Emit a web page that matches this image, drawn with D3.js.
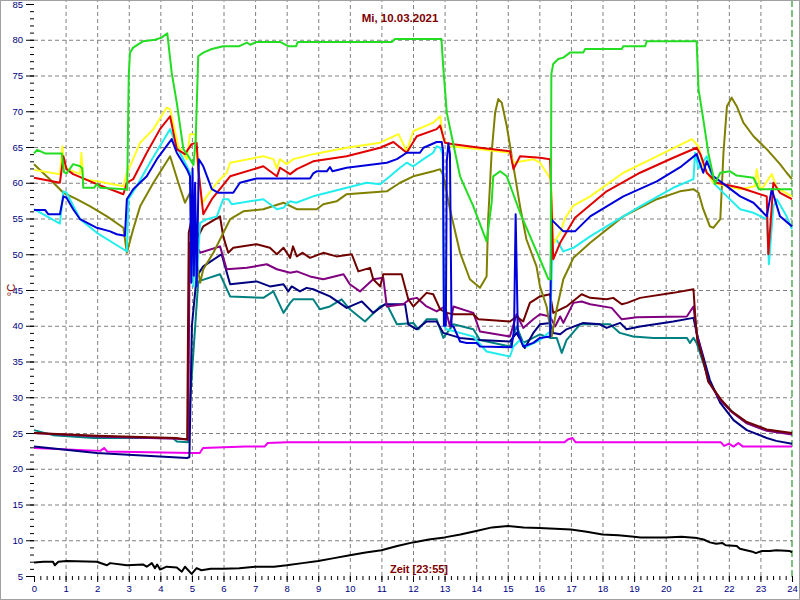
<!DOCTYPE html>
<html><head><meta charset="utf-8">
<script src="https://cdn.jsdelivr.net/npm/d3@7/dist/d3.min.js"></script>
<style>body{margin:0;background:#fff}svg{display:block}</style>
</head><body><svg id="c" width="800" height="600"></svg>
<script>
// ---------- data (hour, °C) ----------
const xMajorTicks = d3.range(0, 25, 1);
const yMajorTicks = d3.range(5, 86, 5);
const titleText = "Mi, 10.03.2021";
const xLabelText = "Zeit [23:55]";
const yLabelText = "°C";

const green = [[0,64.1],[0.1,64.6],[0.35,64.1],[0.88,64.1],[0.95,61.5],[1.03,61.3],[1.24,62.6],[1.46,62.3],[1.53,62.0],[1.56,59.3],[1.9,59.3],[1.99,59.8],[2.1,59.3],[2.88,59.1],[2.95,59],[3.0,75],[3.04,78.2],[3.14,78.9],[3.46,79.8],[3.83,80.0],[4.04,80.3],[4.22,80.9],[4.36,75.4],[4.52,71.2],[4.73,64.7],[4.89,63.7],[5.05,62.5],[5.12,66],[5.2,77.7],[5.36,78.2],[5.63,78.7],[5.99,79.1],[6.5,79.1],[6.74,79.6],[6.85,79.3],[7.05,79.7],[7.79,79.7],[8.05,79.1],[8.3,79.1],[8.35,79.7],[11.33,79.7],[11.43,80.1],[12.9,80.1],[12.96,76.0],[13.07,69.8],[13.49,60.9],[13.91,56.7],[14.33,51.8],[14.49,57.2],[14.54,60.9],[14.76,61.6],[14.97,60.9],[15.39,55.8],[16.02,49.3],[16.29,46.5],[16.36,46.5],[16.38,75.2],[16.44,76.6],[16.6,77.3],[16.76,77.5],[16.97,78.2],[17.39,78.2],[17.45,78.7],[18.61,78.7],[18.66,79.1],[19.35,79.1],[19.4,79.8],[20.98,79.8],[21.04,73.1],[21.19,68.9],[21.35,64.2],[21.56,59.8],[21.73,61.4],[22.04,61.6],[22.25,61.0],[22.78,60.7],[22.95,59.1],[24,59.1]];

const yellow = [[0,61.8],[0.82,61.2],[0.9,65.1],[0.96,62.3],[1.1,61.8],[1.24,61.6],[1.46,61.2],[1.5,64.2],[1.56,60.5],[2.0,60.2],[2.83,59.5],[2.94,61.4],[3.04,62.3],[3.36,65.6],[3.78,67.5],[4.2,70.5],[4.31,70.3],[4.57,65.1],[4.84,63.3],[4.94,66.8],[5.1,66.8],[5.15,64],[5.31,57],[5.47,58.1],[5.79,60],[6.1,61.4],[6.21,62.8],[7.26,63.7],[7.58,63.3],[7.69,62.0],[7.79,63.3],[8.0,62.6],[8.21,63.3],[8.84,64.0],[9.9,64.9],[10.96,65.6],[11.54,66.8],[11.8,64.4],[12.01,67.2],[12.64,68.4],[12.86,69.3],[12.96,66.1],[13.17,65.1],[14.12,64.7],[15.07,64.2],[15.18,62.8],[15.81,63.3],[16.02,62.8],[16.23,61.4],[16.36,60.5],[16.45,51.5],[16.66,53],[16.81,55],[17.08,56.8],[17.61,58.1],[18.66,61.4],[19.72,63.7],[20.83,66.1],[21.04,65.1],[21.19,62.3],[21.51,60.0],[22.36,59.1],[22.83,59.5],[22.88,61.9],[22.99,59.3],[23.04,59.1],[23.36,61.2],[23.52,59.3],[24,58.1]];

const red = [[0,60.7],[0.82,60.0],[0.93,63.7],[1.03,61.9],[1.24,61.2],[1.99,59.8],[2.83,58.4],[2.94,60.0],[3.14,60.5],[3.57,64.2],[3.99,67.5],[4.31,69.3],[4.52,64.7],[4.78,64.0],[4.99,65.4],[5.15,65.6],[5.2,62],[5.36,55.6],[5.63,57.7],[6.21,60.9],[7.26,62.3],[7.69,60.9],[7.79,62.1],[8.11,61.2],[8.32,61.9],[8.84,63.0],[9.9,63.7],[10.96,64.9],[11.38,65.7],[11.8,64.2],[12.12,66.5],[12.75,67.5],[12.86,68.0],[13.01,65.6],[13.28,65.4],[14.12,64.9],[15.07,64.4],[15.18,61.9],[15.39,63.7],[16.02,63.5],[16.34,63.3],[16.44,49.3],[16.66,51.6],[17.13,55.1],[18.13,58.8],[19.19,61.4],[20.24,63.5],[20.98,64.9],[21.1,64],[21.3,61.4],[21.62,60.0],[22.36,59.3],[23.2,58.1],[23.25,50.0],[23.3,53],[23.41,60.0],[23.62,58.6],[24,57.7]];

const blue = [[0,56.2],[0.35,56.2],[0.45,55.6],[0.82,55.6],[0.93,58.1],[1.03,57.9],[1.24,56.3],[1.46,54.9],[1.99,53.7],[2.41,53.2],[2.62,52.8],[2.88,52.6],[2.94,57.7],[3.14,59.1],[3.57,60.9],[3.89,63.3],[4.36,66.1],[4.52,64.2],[4.84,61.9],[4.94,60.9],[4.98,46],[5.02,62],[5.06,47],[5.1,60],[5.15,45.5],[5.22,63.3],[5.36,62.3],[5.63,59.1],[5.84,58.6],[6.31,58.6],[6.52,60.0],[7.05,60.6],[8.74,60.6],[8.84,61.3],[8.95,61.6],[9.27,61.6],[9.37,62.2],[9.45,61.6],[9.9,62.1],[11.17,62.8],[11.49,63.3],[11.8,64.2],[12.22,64.2],[12.33,64.9],[12.75,65.7],[12.91,65.7],[12.95,64.5],[12.98,40],[13.04,40],[13.07,63],[13.12,65.5],[13.17,64],[13.22,40],[13.28,39.9],[13.49,37.8],[13.7,37.6],[14.02,37.6],[14.12,37.1],[15.12,37.0],[15.2,39.5],[15.25,55.6],[15.32,39],[15.49,37.1],[15.81,37.6],[16.02,38.3],[16.34,38.5],[16.38,54.9],[16.44,54.6],[16.76,53.2],[17.13,53.2],[17.61,55.3],[18.66,58.1],[19.72,60.2],[20.5,62.3],[20.98,64.0],[21.19,61.4],[21.3,63.0],[21.51,60.9],[21.94,59.5],[22.36,58.1],[22.78,57.2],[23.2,55.3],[23.36,59.1],[23.62,55.3],[24,53.9]];

const cyan = [[0,56.3],[0.82,54.3],[0.93,58.8],[1.03,58.6],[1.46,54.9],[1.99,53.0],[2.83,50.7],[2.94,50.4],[2.99,57.7],[3.25,59.5],[3.67,62.8],[4.31,67.5],[4.52,65.1],[4.84,62.3],[4.94,61.4],[5.0,53],[5.05,45.5],[5.1,56],[5.15,45.5],[5.2,50],[5.26,54.4],[5.47,54.9],[5.79,55.3],[5.99,57.7],[6.15,57.7],[6.26,57.0],[7.26,57.7],[7.69,56.3],[7.9,56.5],[8.1,57.4],[8.3,57.2],[8.84,58.1],[9.9,59.3],[10.53,60.0],[10.96,59.8],[11.27,60.9],[11.59,62.1],[11.8,62.8],[12.01,62.3],[12.33,63.3],[12.64,64.2],[12.75,65.1],[12.86,64.9],[12.94,64],[12.98,40],[13.07,39.5],[13.49,39.0],[13.91,38.5],[14.33,36.4],[15.07,35.7],[15.18,37.1],[15.39,38.0],[15.59,37.1],[16.02,38.0],[16.34,39.2],[16.42,52],[16.55,52],[16.76,50.4],[17.08,50.9],[17.61,52.5],[18.13,53.9],[19.19,56.7],[20.24,59.3],[20.88,60.5],[20.93,64.2],[21.04,62],[21.3,63.7],[21.51,60.0],[21.94,58.1],[22.36,56.3],[22.78,55.8],[23.2,54.9],[23.27,48.6],[23.41,56.7],[23.52,57.7],[23.83,55.3],[24,53.5]];

const olive = [[0,62.6],[0.5,60.5],[0.93,58.6],[1.35,57.7],[1.78,56.7],[2.31,55.3],[2.83,53.7],[2.94,50.2],[3.14,53.5],[3.36,56.7],[3.78,60.0],[4.31,63.7],[4.57,60.0],[4.78,57.2],[4.94,58.6],[5.0,56],[5.15,49],[5.26,46.0],[5.36,47.9],[5.68,50.2],[6.21,54.9],[6.63,56.0],[7.26,56.3],[7.9,57.2],[8.32,56.3],[8.95,56.3],[9.16,57.0],[9.58,57.4],[9.9,58.4],[11.17,58.8],[11.59,60.0],[12.01,60.9],[12.64,61.6],[12.86,61.9],[12.96,61],[13.17,56.3],[13.49,50.2],[13.8,46.5],[14.12,45.3],[14.33,46.9],[14.38,54.9],[14.49,64.2],[14.6,69.8],[14.7,71.7],[14.81,71.2],[14.97,67.9],[15.18,62.3],[15.39,56.7],[15.59,52.1],[15.91,48.3],[16.02,45.5],[16.23,42.7],[16.39,38.5],[16.55,42.3],[16.76,46.5],[17.08,49.5],[17.61,51.6],[18.66,55.3],[19.72,57.7],[20.45,58.8],[20.88,59.1],[21.04,58.6],[21.19,56.3],[21.4,53.9],[21.51,53.7],[21.73,54.9],[21.83,64.2],[21.94,70.7],[22.09,71.9],[22.25,70.7],[22.46,68.4],[22.78,66.5],[23.2,64.7],[23.62,62.6],[23.83,61.4],[24,60.5]];

const maroon = [[0,25.0],[2,24.6],[4.5,24.3],[4.85,24.1],[4.9,53],[4.99,54.9],[5.04,55.3],[5.2,52.5],[5.36,53.9],[5.89,55.3],[5.99,52.5],[6.15,50.2],[6.31,50.9],[7.05,51.4],[7.47,50.9],[7.69,50.0],[7.9,50.9],[8.11,49.5],[8.2,51.1],[8.32,49.7],[8.5,50.2],[8.74,49.5],[9.16,50.2],[9.58,49.7],[10.06,50.0],[10.27,47.6],[10.64,48.1],[10.74,46.5],[10.96,45.5],[11.06,47.2],[11.64,47.2],[11.85,43.7],[12.01,42.7],[12.43,44.6],[12.64,44.4],[12.86,42.3],[13.07,41.8],[13.28,41.6],[13.91,41.6],[14.07,40.9],[15.07,40.6],[15.28,41.3],[15.49,40.6],[15.7,43.2],[16.02,44.1],[16.34,44.4],[16.44,41.8],[16.86,42.7],[17.34,44.4],[17.61,43.9],[18.13,43.7],[18.34,43.9],[18.61,43.0],[18.78,43.2],[19.19,43.9],[20.24,44.6],[20.88,45.1],[20.93,41.8],[21.0,38],[21.19,35.2],[21.35,32.2],[21.73,29.8],[22.1,28],[22.55,26.6],[23.2,25.5],[24,25.0]];

const purple = [[0,25.0],[2,24.5],[4.5,24.2],[4.88,24.1],[4.93,51.6],[5.1,51.6],[5.26,50.2],[5.89,51.1],[6.1,47.9],[6.74,48.1],[7.37,48.6],[7.69,47.9],[8.11,47.4],[8.32,47.6],[8.74,46.9],[9.16,46.5],[9.8,47.2],[10.0,45.8],[10.32,44.8],[10.74,46.5],[11.06,46.7],[11.17,42.7],[11.69,43.0],[11.9,43.7],[12.12,43.9],[12.43,42.7],[12.75,42.0],[13.01,42.7],[13.17,39.9],[13.28,42.7],[13.91,41.8],[14.12,39.2],[15.07,38.5],[15.28,41.6],[15.49,39.7],[15.81,40.9],[16.02,41.6],[16.34,41.3],[16.5,39.9],[16.66,41.3],[16.76,40.4],[17.08,43.2],[17.34,43.4],[17.61,43.0],[18.29,42.5],[18.61,40.9],[19.08,41.2],[20.67,41.3],[20.88,42.7],[20.98,39],[21.19,35.2],[21.35,32.2],[21.73,29.6],[22.1,27.9],[22.55,26.4],[23.2,25.3],[24,24.8]];

const navy = [[0,23.1],[1.99,22.2],[4.84,21.5],[4.92,21.6],[5.0,40],[5.15,46.9],[5.36,48.3],[5.94,50.0],[6.21,45.8],[7.05,46.2],[7.47,45.5],[7.9,45.8],[8.05,44.8],[8.16,45.5],[8.42,44.8],[8.63,45.3],[8.84,45.1],[9.37,44.1],[9.9,42.5],[10.38,43.4],[10.74,41.8],[11.11,43.0],[11.75,43.0],[11.85,40.2],[12.12,39.5],[12.43,40.6],[12.75,40.6],[12.96,39.0],[13.49,38.3],[14.12,38.0],[15.07,37.8],[15.28,39.0],[15.54,36.9],[15.81,39.0],[16.02,40.2],[16.34,40.4],[16.44,39.0],[16.66,38.8],[16.86,39.5],[17.39,40.4],[17.92,40.2],[18.13,39.7],[18.56,40.4],[18.76,39.5],[19.19,39.9],[20.24,40.6],[20.88,41.1],[20.98,39.0],[21.19,35.7],[21.4,32.4],[21.73,29.2],[22.15,26.8],[22.57,25.4],[23.2,24.3],[23.5,23.9],[24,23.5]];

const teal = [[0,25.4],[0.6,24.7],[1.9,24.3],[4.4,24.3],[4.52,23.8],[4.88,23.7],[4.95,30],[5.2,46.2],[5.89,47.2],[6.21,44.1],[7.26,43.9],[7.58,44.8],[7.9,41.8],[8.11,43.2],[8.21,43.7],[8.84,43.7],[9.05,42.3],[9.37,42.7],[9.74,43.7],[10.0,42.3],[10.48,40.6],[10.96,42.7],[11.17,43.0],[11.49,40.2],[12.01,40.4],[12.17,39.5],[12.43,40.9],[12.75,40.9],[12.96,38.3],[13.28,40.2],[13.91,39.5],[14.12,38.0],[15.07,37.1],[15.28,39.9],[15.49,37.6],[16.02,38.8],[16.34,38.3],[16.55,38.3],[16.71,36.2],[16.86,38.0],[17.29,40.2],[18.24,40.2],[18.55,39.0],[18.97,38.5],[19.61,38.3],[20.67,38.3],[20.77,37.6],[20.88,38.3],[20.98,37.6],[21.19,34.8],[21.4,32.0],[21.73,29.6],[22.15,27.8],[22.57,26.4],[23.2,25.4],[24,24.9]];

const magenta = [[0,22.9],[2.1,22.5],[2.22,22.9],[2.32,22.4],[4.99,22.2],[5.25,22.2],[5.35,22.9],[6.7,23.1],[7.3,23.1],[7.4,23.6],[8,23.7],[16.8,23.7],[16.9,24.1],[17.05,24.3],[17.15,23.7],[21.75,23.7],[21.85,23.2],[22.0,23.5],[22.15,23.1],[22.3,23.6],[22.45,23.1],[24,23.1]];

const black = [[0,6.9],[0.3,7.0],[0.6,7.0],[0.66,6.5],[0.77,7.0],[1.03,7.1],[1.99,7.0],[2.31,6.5],[2.41,6.8],[2.94,6.5],[3.46,6.6],[3.57,6.3],[3.73,6.8],[3.83,6.1],[3.9,6.6],[3.99,5.9],[4.2,6.3],[4.52,6.2],[4.68,5.6],[4.78,6.3],[4.99,5.3],[5.15,6.1],[5.3,5.8],[5.6,6.0],[6.0,6.0],[6.5,6.1],[7.0,6.3],[7.6,6.3],[8.0,6.5],[8.5,6.8],[9.0,7.1],[9.5,7.5],[10.0,7.9],[10.5,8.3],[11.0,8.6],[11.5,9.2],[12.0,9.7],[12.5,10.1],[13.0,10.4],[13.5,10.8],[14.0,11.3],[14.5,11.8],[15.0,12.0],[15.5,11.8],[16.0,11.7],[16.5,11.6],[17.0,11.5],[17.5,11.2],[18.0,10.8],[18.5,10.7],[19.0,10.5],[19.2,10.4],[20.0,10.4],[20.5,10.5],[21.0,10.3],[21.2,10.1],[21.4,9.7],[21.6,9.5],[21.8,9.6],[21.9,9.3],[22.25,9.2],[22.35,8.8],[22.75,8.4],[22.85,8.2],[23.05,8.5],[23.3,8.5],[23.5,8.6],[23.93,8.5],[24,8.3]];

const seriesList = [
  {data: black,   color: "#000000"},
  {data: magenta, color: "#ee00ee"},
  {data: teal,    color: "#008080"},
  {data: navy,    color: "#000080"},
  {data: purple,  color: "#800080"},
  {data: maroon,  color: "#700000"},
  {data: olive,   color: "#808000"},
  {data: cyan,    color: "#22eeee"},
  {data: yellow,  color: "#ffff22"},
  {data: red,     color: "#e00000"},
  {data: blue,    color: "#0000dd"},
  {data: green,   color: "#22dd22"}
];

// ---------- drawing ----------
const svg = d3.select("#c");
const x = d3.scaleLinear().domain([0, 24]).range([34, 792]);
const y = d3.scaleLinear().domain([5, 85]).range([576, 4]);
const font = "Arial, 'Liberation Sans', sans-serif";

svg.append("rect").attr("x",0).attr("y",0).attr("width",800).attr("height",600).attr("fill","#fff");

// grid
const gx = svg.append("g").attr("transform","translate(0,576)")
  .call(d3.axisBottom(x).tickValues(d3.range(1,24)).tickSize(-576).tickFormat(""));
gx.select(".domain").remove();
gx.selectAll("line").attr("stroke","#808080").attr("stroke-dasharray","4,3");
const gy = svg.append("g").attr("transform","translate(34,0)")
  .call(d3.axisLeft(y).tickValues(d3.range(10,81,5)).tickSize(-(792-34)).tickFormat(""));
gy.select(".domain").remove();
gy.selectAll("line").attr("stroke","#808080").attr("stroke-dasharray","4,3");

// current time marker
svg.append("line").attr("x1",x(24)).attr("x2",x(24)).attr("y1",0).attr("y2",580)
  .attr("stroke","#008000").attr("stroke-width",1).attr("stroke-dasharray","7,3");

// y axis
const yMinor = svg.append("g").attr("transform","translate(34,0)")
  .call(d3.axisLeft(y).tickValues(d3.range(5,86,1)).tickSize(4).tickFormat(""));
yMinor.select(".domain").remove();
yMinor.selectAll("line").attr("stroke","#000");
const yMajor = svg.append("g").attr("transform","translate(34,0)")
  .call(d3.axisLeft(y).tickValues(yMajorTicks).tickSize(8).tickPadding(3));
yMajor.select(".domain").remove();
yMajor.selectAll("line").attr("stroke","#000");
yMajor.selectAll("text").attr("fill","#000080").style("font-family",font).style("font-size","9.5px");

// x axis
const xMinor = svg.append("g").attr("transform","translate(0,576)")
  .call(d3.axisBottom(x).tickValues(d3.range(0,24.01,0.2)).tickSize(4).tickFormat(""));
xMinor.select(".domain").remove();
xMinor.selectAll("line").attr("stroke","#000");
const xMajor = svg.append("g").attr("transform","translate(0,576)")
  .call(d3.axisBottom(x).tickValues(xMajorTicks).tickSize(6).tickPadding(3).tickFormat(d3.format("d")));
xMajor.select(".domain").remove();
xMajor.selectAll("line").attr("stroke","#000");
xMajor.selectAll("text").attr("fill","#000080").style("font-family",font).style("font-size","9.5px");

// lines
const line = d3.line().x(d => x(d[0])).y(d => y(d[1]));
svg.append("g").selectAll("path").data(seriesList).join("path")
  .attr("d", d => line(d.data))
  .attr("fill","none").attr("stroke", d => d.color)
  .attr("stroke-width",2).attr("stroke-linejoin","round");

// texts
svg.append("text").attr("x",400).attr("y",22).attr("text-anchor","middle")
  .attr("fill","#800000").style("font-family",font).style("font-size","11.5px").style("font-weight","bold")
  .text(titleText);
svg.append("text").attr("x",419).attr("y",573).attr("text-anchor","middle")
  .attr("fill","#800000").style("font-family",font).style("font-size","11px").style("font-weight","bold")
  .text(xLabelText);
svg.append("text").attr("transform","translate(15,290) rotate(-90)").attr("text-anchor","middle")
  .attr("fill","#800000").style("font-family",font).style("font-size","11px")
  .text(yLabelText);

// frame
svg.append("rect").attr("x",0.5).attr("y",0.5).attr("width",799).attr("height",599)
  .attr("fill","none").attr("stroke","#a0a0a0");
</script></body></html>
